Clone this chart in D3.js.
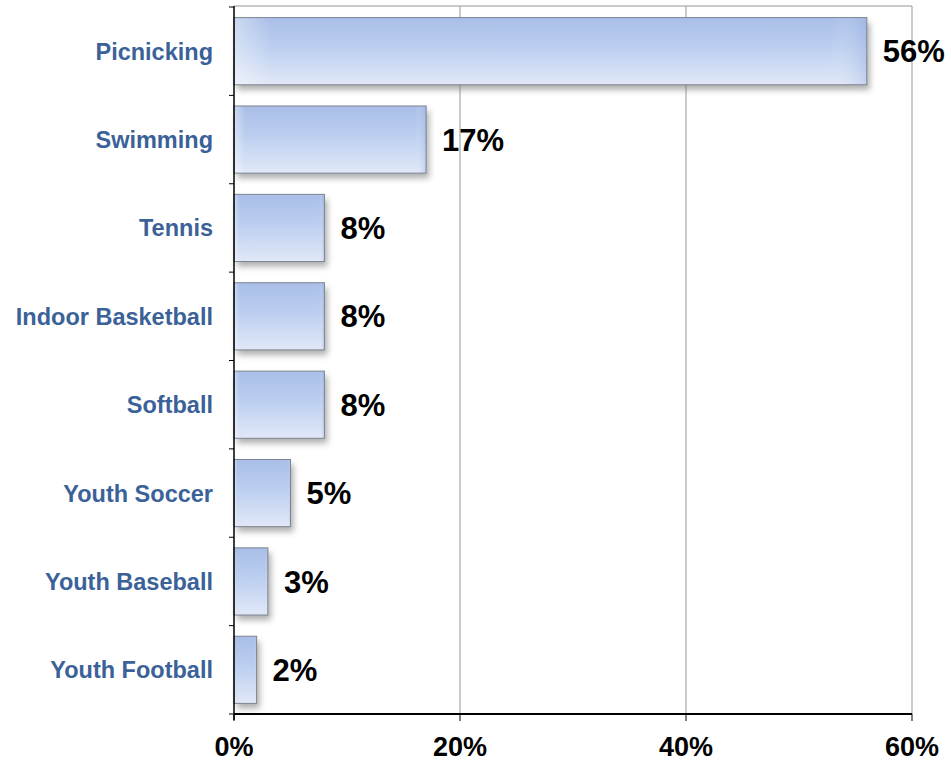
<!DOCTYPE html>
<html>
<head>
<meta charset="utf-8">
<script src="https://cdn.jsdelivr.net/npm/d3@7"></script>
<style>
  body { margin: 0; background: #fff; }
  svg { display: block; font-family: "Liberation Sans", Arial, sans-serif; }
</style>
</head>
<body>
<svg id="chart" width="951" height="761"></svg>
<script>
// Activity shares
const categories = ["Picnicking", "Swimming", "Tennis", "Indoor Basketball", "Softball", "Youth Soccer", "Youth Baseball", "Youth Football"];
const values = [56, 17, 8, 8, 8, 5, 3, 2];
const xTicks = [0, 20, 40, 60];

const svg = d3.select("#chart");
const margin = { top: 7, right: 40, bottom: 47, left: 234 };
const W = 951, H = 761;
const innerW = 912 - margin.left;
const innerH = H - margin.top - margin.bottom;

const x = d3.scaleLinear().domain([0, 60]).range([0, innerW]);
const y = d3.scaleBand().domain(categories).range([0, innerH]).paddingInner(0.24).paddingOuter(0.12);

const defs = svg.append("defs");
const grad = defs.append("linearGradient").attr("id", "barGrad").attr("x1", 0).attr("y1", 0).attr("x2", 0).attr("y2", 1);
grad.append("stop").attr("offset", "0%").attr("stop-color", "#a9bee8");
grad.append("stop").attr("offset", "45%").attr("stop-color", "#bccff0");
grad.append("stop").attr("offset", "100%").attr("stop-color", "#e1e8f7");
const gradH = defs.append("linearGradient").attr("id", "barGradH").attr("x1", 0).attr("y1", 0).attr("x2", 1).attr("y2", 0);
gradH.append("stop").attr("offset", "0%").attr("stop-color", "#ffffff").attr("stop-opacity", 0.4);
gradH.append("stop").attr("offset", "6%").attr("stop-color", "#ffffff").attr("stop-opacity", 0.0);
gradH.append("stop").attr("offset", "94%").attr("stop-color", "#ffffff").attr("stop-opacity", 0.0);
gradH.append("stop").attr("offset", "100%").attr("stop-color", "#8ea6dc").attr("stop-opacity", 0.35);
const shadow = defs.append("filter").attr("id", "shadow").attr("x", "-20%").attr("y", "-20%").attr("width", "150%").attr("height", "150%");
shadow.append("feGaussianBlur").attr("stdDeviation", 3);

const g = svg.append("g").attr("transform", `translate(${margin.left},${margin.top})`);

// Frame and gridlines
g.append("line").attr("x1", 0).attr("x2", innerW).attr("y1", -1).attr("y2", -1).attr("stroke", "#b8b8b8").attr("stroke-width", 1.5);
g.selectAll(".grid").data(xTicks.slice(1)).join("line")
  .attr("x1", d => x(d)).attr("x2", d => x(d))
  .attr("y1", -1).attr("y2", innerH)
  .attr("stroke", "#a8a8a8").attr("stroke-width", 1.2);

// Bar shadows
g.selectAll(".shadow").data(values).join("rect")
  .attr("x", 3).attr("y", (d, i) => y(categories[i]) + 5)
  .attr("width", d => x(d)).attr("height", y.bandwidth())
  .attr("fill", "#6c6c6c").attr("opacity", 0.55).attr("filter", "url(#shadow)");

// Bars
g.selectAll(".bar").data(values).join("rect")
  .attr("x", 0).attr("y", (d, i) => y(categories[i]))
  .attr("width", d => x(d)).attr("height", y.bandwidth())
  .attr("fill", "url(#barGrad)");
g.selectAll(".barH").data(values).join("rect")
  .attr("x", 0).attr("y", (d, i) => y(categories[i]))
  .attr("width", d => x(d)).attr("height", y.bandwidth())
  .attr("fill", "url(#barGradH)")
  .attr("stroke", "#7d8590").attr("stroke-width", 1);

// Value labels
g.selectAll(".val").data(values).join("text")
  .attr("x", d => x(d) + 16)
  .attr("y", (d, i) => y(categories[i]) + y.bandwidth() / 2)
  .attr("dy", "0.36em")
  .attr("font-size", 31).attr("font-weight", "bold").attr("fill", "#000")
  .text(d => d + "%");

// Left axis
const yAxis = g.append("g");
yAxis.append("line").attr("x1", 0).attr("x2", 0).attr("y1", -1).attr("y2", innerH + 6).attr("stroke", "#000").attr("stroke-width", 1.5);
const bounds = d3.range(categories.length + 1).map(i => i * innerH / categories.length);
yAxis.selectAll(".yt").data(bounds).join("line")
  .attr("x1", -5).attr("x2", 0).attr("y1", d => d).attr("y2", d => d)
  .attr("stroke", "#000").attr("stroke-width", 1);
yAxis.selectAll(".yl").data(categories).join("text")
  .attr("x", -21).attr("y", d => y(d) + y.bandwidth() / 2)
  .attr("dy", "0.36em").attr("text-anchor", "end")
  .attr("font-size", 23.5).attr("font-weight", "bold").attr("fill", "#3b6298")
  .text(d => d);

// Bottom axis
const xAxis = g.append("g").attr("transform", `translate(0,${innerH})`);
xAxis.append("line").attr("x1", 0).attr("x2", innerW).attr("stroke", "#000").attr("stroke-width", 2);
xAxis.selectAll(".xt").data(xTicks).join("line")
  .attr("x1", d => x(d)).attr("x2", d => x(d)).attr("y1", 0).attr("y2", 7)
  .attr("stroke", "#000").attr("stroke-width", 1);
xAxis.selectAll(".xl").data(xTicks).join("text")
  .attr("x", d => x(d)).attr("y", 42)
  .attr("text-anchor", "middle")
  .attr("font-size", 27).attr("font-weight", "bold").attr("fill", "#000")
  .text(d => d + "%");
</script>
</body>
</html>
